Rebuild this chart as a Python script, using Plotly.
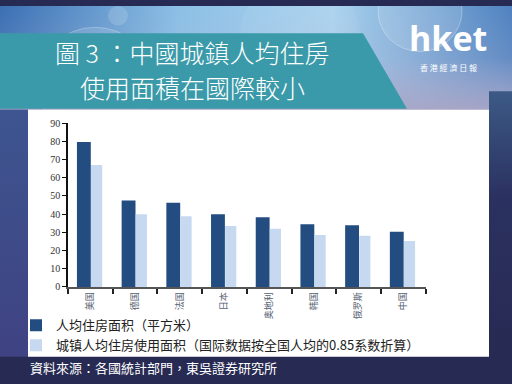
import base64
import plotly.graph_objects as go

# ---------------- data ----------------
categories = ["美国", "德国", "法国", "日本", "奥地利", "韩国", "俄罗斯", "中国"]
series_total = [79.7, 47.5, 46.3, 40.0, 38.3, 34.4, 33.9, 30.3]
series_urban = [67.0, 40.0, 38.8, 33.5, 32.0, 28.6, 28.2, 25.2]
name_total = "人均住房面积（平方米）"
name_urban = "城镇人均住房使用面积（国际数据按全国人均的0.85系数折算）"
y_ticks = list(range(0, 100, 10))
title_lines = ["圖 3 ：中國城鎮人均住房", "使用面積在國際較小"]
source_text = "資料來源：各國統計部門，東吳證券研究所"

W, H = 512, 384
def px(x): return x / W
def py(y): return 1 - y / H

DARK = "#234d80"
LIGHT = "#c6d9f1"

# ---------------- background artwork (svg) ----------------
svg = f"""<svg xmlns='http://www.w3.org/2000/svg' width='{W}' height='{H}' viewBox='0 0 {W} {H}'>
<defs>
<linearGradient id='top' x1='0' y1='0' x2='1' y2='0'>
<stop offset='0' stop-color='#3a6fb3'/>
<stop offset='0.35' stop-color='#8cc0e6'/>
<stop offset='0.65' stop-color='#a8d2ee'/>
<stop offset='1' stop-color='#4f82c0'/>
</linearGradient>
<linearGradient id='topfade' x1='0' y1='0' x2='0' y2='1'>
<stop offset='0' stop-color='#b9b4d2' stop-opacity='0'/>
<stop offset='0.5' stop-color='#b9b4d2' stop-opacity='0.2'/>
<stop offset='1' stop-color='#aaa6c6' stop-opacity='0.95'/>
</linearGradient>
<linearGradient id='left' x1='0' y1='0' x2='0' y2='1'>
<stop offset='0' stop-color='#3d5590'/>
<stop offset='1' stop-color='#3f4283'/>
</linearGradient>
<linearGradient id='right' x1='0' y1='0' x2='0' y2='1'>
<stop offset='0' stop-color='#3c5a86'/>
<stop offset='0.4' stop-color='#2b3160'/>
<stop offset='1' stop-color='#272a52'/>
</linearGradient>
</defs>
<rect x='0' y='0' width='{W}' height='{H}' fill='#272a52'/>
<rect x='0' y='0' width='{W}' height='108' fill='url(#top)'/>
<rect x='0' y='0' width='{W}' height='108' fill='url(#topfade)'/>
<circle cx='95' cy='80' r='58' fill='#ffffff' fill-opacity='0.12' stroke='#ffffff' stroke-opacity='0.25'/>
<circle cx='118' cy='10' r='10' fill='#ffffff' fill-opacity='0.15'/>
<circle cx='420' cy='5' r='42' fill='#ffffff' fill-opacity='0.12' stroke='#ffffff' stroke-opacity='0.3'/>
<circle cx='300' cy='30' r='60' fill='#ffffff' fill-opacity='0.06'/>
<rect x='0' y='107' width='28' height='255' fill='url(#left)'/>
<rect x='489' y='88' width='23' height='274' fill='url(#right)'/>
</svg>"""
svg_uri = "data:image/svg+xml;base64," + base64.b64encode(svg.encode("utf-8")).decode()

# ---------------- figure ----------------
fig = go.Figure()
fig.add_trace(go.Bar(
    x=categories, y=series_total, name=name_total,
    marker=dict(color=DARK, line=dict(width=0)),
    offset=-0.30, width=0.31,
    hoverinfo="skip",
))
fig.add_trace(go.Bar(
    x=categories, y=series_urban, name=name_urban,
    marker=dict(color=LIGHT, line=dict(width=0)),
    offset=0.015, width=0.25,
    hoverinfo="skip",
))

title_font = dict(family="Noto Sans CJK TC", size=25, color="#ffffff", weight=300)

fig.update_layout(
    width=W, height=H,
    margin=dict(l=0, r=0, t=0, b=0),
    paper_bgcolor="#272a52",
    plot_bgcolor="rgba(0,0,0,0)",
    barmode="overlay",
    showlegend=True,
    legend=dict(
        x=px(16), y=py(340), xanchor="left", yanchor="middle",
        bgcolor="rgba(0,0,0,0)", itemwidth=30, tracegroupgap=0,
        font=dict(family="Noto Sans CJK SC", size=13, color="#222222"),
        traceorder="normal",
    ),
    xaxis=dict(
        domain=[px(68), px(425.6)],
        type="category", range=[-0.5, len(categories) - 0.5],
        showline=True, linecolor="#555555", linewidth=1.5,
        ticks="outside", tickson="boundaries", ticklen=5, tickcolor="#222222", tickwidth=1.5,
        tickangle=-90,
        tickfont=dict(family="Noto Sans CJK SC", size=9, color="#556070"),
        showgrid=False, zeroline=False, fixedrange=True,
    ),
    yaxis=dict(
        domain=[py(290), py(121)],
        range=[0, 90], tickvals=y_ticks,
        showline=True, linecolor="#111111", linewidth=1.5,
        ticks="outside", ticklen=4, tickcolor="#111111", tickwidth=1,
        tickfont=dict(family="Liberation Serif", size=10, color="#333333"),
        showgrid=False, zeroline=False, fixedrange=True,
    ),
    images=[dict(
        source=svg_uri, xref="paper", yref="paper",
        x=0, y=1, sizex=1, sizey=1, xanchor="left", yanchor="top",
        sizing="stretch", layer="below",
    )],
    shapes=[
        # teal title banner
        dict(type="path", xref="paper", yref="paper", layer="below",
             path=f"M 0,{py(28)} L {px(363)},{py(28)} L {px(407)},{py(106)} L 0,{py(106)} Z",
             fillcolor="#3b9aa9", line=dict(width=0)),
        # white chart panel
        dict(type="rect", xref="paper", yref="paper", layer="below",
             x0=px(28), x1=px(489), y0=py(362), y1=py(107),
             fillcolor="#ffffff", line=dict(width=0)),
    ],
    annotations=[
        dict(text=title_lines[0], xref="paper", yref="paper", x=px(192), y=py(47.5),
             xanchor="center", yanchor="middle", showarrow=False, font=title_font),
        dict(text=title_lines[1], xref="paper", yref="paper", x=px(192), y=py(84),
             xanchor="center", yanchor="middle", showarrow=False, font=title_font),
        dict(text="<b>hket</b>", xref="paper", yref="paper", x=px(448), y=py(33),
             xanchor="center", yanchor="middle", showarrow=False,
             font=dict(family="Open Sans", size=34, color="#ffffff")),
        dict(text="香 港 經 濟 日 報", xref="paper", yref="paper", x=px(448), y=py(63),
             xanchor="center", yanchor="middle", showarrow=False,
             font=dict(family="Noto Sans CJK TC", size=8, color="#ffffff")),
        dict(text=source_text, xref="paper", yref="paper", x=px(28), y=py(373),
             xanchor="left", yanchor="middle", showarrow=False,
             font=dict(family="Noto Sans CJK TC", size=13, color="#ffffff")),
    ],
)

fig.write_html("out.html", config={"displayModeBar": False},
               post_script="document.body.style.margin='0px';")
